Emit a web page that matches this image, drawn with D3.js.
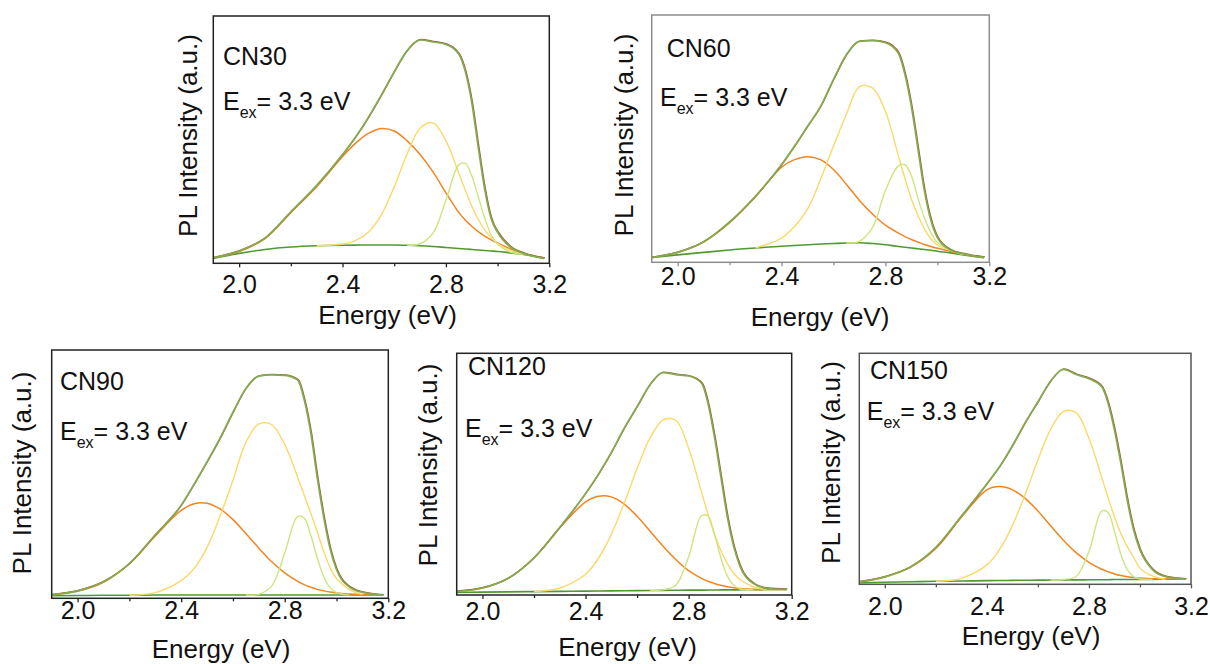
<!DOCTYPE html>
<html>
<head>
<meta charset="utf-8">
<script src="https://cdn.jsdelivr.net/npm/d3@7"></script>
<style>
  body { margin: 0; background: #fff; }
  svg text { font-family: "Liberation Sans", Arial, sans-serif; fill: #111; }
</style>
</head>
<body>
<svg id="chart" width="1210" height="664"></svg>
<script>
// photon energy grid (eV) shared by every curve
var energy = [1.9, 2.0, 2.1, 2.2, 2.3, 2.4, 2.45, 2.5, 2.55, 2.6, 2.65, 2.7, 2.75, 2.8, 2.85, 2.875, 2.9, 2.925, 2.95, 2.975, 3.0, 3.05, 3.1, 3.18];

var samples = ["CN30", "CN60", "CN90", "CN120", "CN150"];
var excitationText = "= 3.3 eV";
var xTicks = [2.0, 2.4, 2.8, 3.2];
var xMinorTicks = [2.2, 2.6, 3.0];

// intensities in % of the plot height
var cn30Total = [2.2, 5.0, 10.2, 20.8, 31.5, 44, 51, 59, 68, 77.5, 86, 90.3, 89.5, 88.5, 84.5, 77.5, 65, 47, 30, 18, 12.5, 6.5, 4, 2];
var cn30Base  = [2.0, 4.0, 5.6, 6.6, 7.1, 7.3, 7.35, 7.4, 7.4, 7.4, 7.3, 7.1, 6.8, 6.4, 6.0, 5.8, 5.6, 5.4, 5.2, 5.0, 4.8, 4.2, 3.6, 2.0];
var cn30Peak1 = [2.2, 4.8, 10, 20.5, 31, 43.2, 48.5, 52.5, 54.5, 53.5, 49.5, 44, 37, 28.5, 20.5, 17.5, 15, 12.8, 11, 9.5, 8.2, 5.8, 4.0, 2.2];
var cn30Peak2 = [null, null, null, null, 7.1, 7.8, 9.2, 12.6, 19.6, 30.9, 44.2, 54.6, 56.8, 49.5, 36.4, 29.5, 23.2, 17.8, 13.5, 10.3, 8.0, 5.2, 3.7, null];
var cn30Peak3 = [null, null, null, null, null, null, null, null, null, null, 7.3, 7.9, 12.2, 25.5, 39.8, 40.4, 35.4, 27, 18.3, 11.5, 7.7, 4.5, 3.6, null];

var cn60Total = [1.9, 4.0, 8.3, 16.3, 26.8, 39.5, 47, 55, 63, 74, 84, 89.3, 89.6, 88.8, 84.5, 76, 63, 46, 29, 17, 10, 5, 3.4, 2.0];
var cn60Base  = [1.9, 3.0, 4.0, 5.0, 5.8, 6.5, 6.8, 7.1, 7.4, 7.6, 7.8, 7.9, 7.6, 7.1, 6.4, 6.1, 5.8, 5.5, 5.2, 4.9, 4.5, 3.8, 3.0, 1.9];
var cn60Peak1 = [2.0, 4.0, 8.2, 16, 26.5, 38.5, 41.5, 42.7, 41.5, 37.5, 31.5, 25, 19.5, 15, 11.8, 10.4, 9.2, 8.2, 7.2, 6.4, 5.7, 4.5, 3.3, 2.0];
var cn60Peak2 = [null, null, null, null, 5.8, 9.8, 14.5, 21.5, 33.5, 47, 60, 71, 70.5, 61, 43, 34, 25.5, 19, 13.5, 9.5, 7, 4.8, 3.1, null];
var cn60Peak3 = [null, null, null, null, null, null, null, null, null, null, 7.8, 8.5, 14, 29, 39, 39.5, 35, 26, 18, 12, 8, 5, 3.1, null];

var cn90Total = [1.4, 3.0, 6.7, 14, 25.6, 37.5, 46, 55, 64.5, 75, 84.5, 89.5, 90, 89.8, 87.9, 80, 67, 49, 33, 20, 11.5, 4.5, 2.4, 1.3];
var cn90Base  = [1.0, 1.1, 1.2, 1.2, 1.3, 1.3, 1.3, 1.3, 1.3, 1.3, 1.3, 1.3, 1.3, 1.3, 1.3, 1.3, 1.3, 1.3, 1.3, 1.3, 1.3, 1.3, 1.3, 1.3];
var cn90Peak1 = [1.4, 2.8, 6.4, 13.9, 25.1, 35.4, 38.1, 38.3, 36, 31.7, 26.1, 20.2, 14.7, 10.2, 6.8, 5.5, 4.5, 3.6, 3.0, 2.5, 2.2, 1.7, 1.45, 1.3];
var cn90Peak2 = [null, null, null, 1.2, 2.3, 7.1, 12, 20.5, 33, 47.5, 62.8, 70.2, 69.9, 61.9, 48.8, 41.6, 34.4, 27, 19, 12.5, 8, 3.5, 1.5, null];
var cn90Peak3 = [null, null, null, null, null, null, null, null, null, null, 1.3, 1.6, 5.0, 18.3, 33, 32.3, 25.6, 16.5, 8.9, 4.3, 2.3, 1.3, null, null];

var cn120Total = [1.5, 2.9, 6.9, 15.4, 28, 42, 50, 59, 69, 78, 87, 92, 91.2, 90.6, 87.6, 79.3, 65.5, 49, 32.4, 20, 11.7, 4.8, 2.8, 2.3];
var cn120Base  = [1.1, 1.2, 1.3, 1.4, 1.5, 1.6, 1.65, 1.7, 1.75, 1.8, 1.85, 1.9, 1.95, 2.0, 2.0, 2.05, 2.05, 2.1, 2.1, 2.1, 2.15, 2.2, 2.25, 2.3];
var cn120Peak1 = [1.5, 2.9, 6.9, 15.4, 27.8, 38.5, 40.9, 40.6, 37.6, 32.6, 26.5, 20.3, 14.7, 10.1, 6.9, 5.7, 4.8, 4.0, 3.4, 3.0, 2.7, 2.4, 2.3, 2.3];
var cn120Peak2 = [null, null, null, 1.4, 2.9, 8.6, 15.2, 25.1, 38, 52.3, 64.9, 72.4, 72.3, 60.7, 42.6, 33.4, 25.2, 18.4, 13, 9, 6.3, 3.4, 2.3, null];
var cn120Peak3 = [null, null, null, null, null, null, null, null, null, null, 1.85, 2.1, 4.0, 15.8, 32.8, 32.7, 25.2, 15.4, 7.9, 4.0, 2.5, 2.2, null, null];

var cn150Total = [1.0, 3.2, 7.5, 16, 29.5, 43.5, 51, 60, 70, 79, 88, 93, 90.8, 89, 85.5, 78.4, 66.8, 52.4, 36.5, 23.5, 14.9, 6.2, 3.3, 2.2];
var cn150Base  = [0.7, 0.9, 1.1, 1.3, 1.4, 1.6, 1.65, 1.7, 1.75, 1.8, 1.85, 1.9, 1.9, 1.95, 2.0, 2.0, 2.05, 2.05, 2.1, 2.1, 2.1, 2.15, 2.2, 2.2];
var cn150Peak1 = [1.0, 3.2, 7.3, 15.5, 29, 40.9, 42.3, 40.9, 37.2, 31.7, 25.3, 19.1, 13.7, 9.5, 6.5, 5.4, 4.5, 3.8, 3.3, 2.9, 2.7, 2.4, 2.3, 2.2];
var cn150Peak2 = [null, null, null, 1.3, 2.6, 8.4, 15.1, 25.4, 38.9, 53.9, 67.1, 74.8, 74.2, 63.2, 46.3, 37.5, 29.2, 22, 16.3, 11.8, 7, 3.5, 2.2, null];
var cn150Peak3 = [null, null, null, null, null, null, null, null, null, null, 1.85, 2.1, 3.4, 14.1, 31.7, 31.1, 22.9, 13, 6.3, 3.3, 2.3, 2.15, null, null];

var curves = {
  CN30:  {total: cn30Total,  base: cn30Base,  p1: cn30Peak1,  p2: cn30Peak2,  p3: cn30Peak3},
  CN60:  {total: cn60Total,  base: cn60Base,  p1: cn60Peak1,  p2: cn60Peak2,  p3: cn60Peak3},
  CN90:  {total: cn90Total,  base: cn90Base,  p1: cn90Peak1,  p2: cn90Peak2,  p3: cn90Peak3},
  CN120: {total: cn120Total, base: cn120Base, p1: cn120Peak1, p2: cn120Peak2, p3: cn120Peak3},
  CN150: {total: cn150Total, base: cn150Base, p1: cn150Peak1, p2: cn150Peak2, p3: cn150Peak3}
};

var colors = {base: "#4f9a30", p1: "#f28520", p2: "#fbd86a", p3: "#cde57f", data: "#9a5e30", fit: "#84ab52"};

// where each panel sits in the figure
var panels = [
  {left: 213.3, right: 549.3, top: 16,    bottom: 263.3, frame: "#222",    tick: 29.6, tx: 387.5, ty: 323.5, yx: 196.5, yy: 135.5, nx: 223,   ny: 65,    ex: 223,   ey: 110},
  {left: 651.7, right: 989.3, top: 15,    bottom: 262.3, frame: "#8c8c8c", tick: 22.7, tx: 820,   ty: 326,   yx: 632.5, yy: 135,   nx: 666.7, ny: 56.7,  ex: 660,   ey: 106},
  {left: 51.7,  right: 388.3, top: 350,   bottom: 598.3, frame: "#222",    tick: 21,   tx: 221,   ty: 658,   yx: 31,    yy: 473,   nx: 60,    ny: 390,   ex: 60,    ey: 440},
  {left: 456.7, right: 791.7, top: 353.3, bottom: 595,   frame: "#222",    tick: 24.5, tx: 627.5, ty: 656,   yx: 436.5, yy: 465,   nx: 468,   ny: 375,   ex: 465,   ey: 436.7},
  {left: 859.3, right: 1191,  top: 353.3, bottom: 584.3, frame: "#555",    tick: 31,   tx: 1031,  ty: 645,   yx: 839.5, yy: 462.5, nx: 870,   ny: 379,   ex: 866.7, ey: 420}
];

var svg = d3.select("#chart");

samples.forEach(function(name, i) {
  var p = panels[i];
  var c = curves[name];
  var w = p.right - p.left, h = p.bottom - p.top;

  var x = d3.scaleLinear().domain([1.9, 3.2]).range([0, w]);
  var y = d3.scaleLinear().domain([0, 100]).range([h, 0]);

  var g = svg.append("g").attr("transform", "translate(" + p.left + "," + p.top + ")");

  g.append("clipPath").attr("id", "clip" + i)
    .append("rect").attr("width", w).attr("height", h);

  function pts(arr) { return energy.map(function(e, k) { return [e, arr[k]]; }); }
  function lineWith(curve) {
    return d3.line()
      .defined(function(d) { return d[1] != null; })
      .x(function(d) { return x(d[0]); })
      .y(function(d) { return y(d[1]); })
      .curve(curve);
  }
  var smooth = lineWith(d3.curveCatmullRom.alpha(0.5));   // fitted peaks
  var mono = lineWith(d3.curveMonotoneX);                  // spectrum and baseline

  var plot = g.append("g").attr("clip-path", "url(#clip" + i + ")");
  plot.append("path").attr("d", mono(pts(c.base))).attr("fill", "none")
    .attr("stroke", colors.base).attr("stroke-width", 1.6);
  plot.append("path").attr("d", smooth(pts(c.p1))).attr("fill", "none")
    .attr("stroke", colors.p1).attr("stroke-width", 1.5);
  plot.append("path").attr("d", smooth(pts(c.p2))).attr("fill", "none")
    .attr("stroke", colors.p2).attr("stroke-width", 1.4);
  plot.append("path").attr("d", smooth(pts(c.p3))).attr("fill", "none")
    .attr("stroke", colors.p3).attr("stroke-width", 1.4);
  // measured spectrum under the fitted envelope
  plot.append("path").attr("d", mono(pts(c.total))).attr("fill", "none")
    .attr("stroke", colors.data).attr("stroke-width", 1.3)
    .attr("transform", "translate(0.7,-0.5)");
  plot.append("path").attr("d", mono(pts(c.total))).attr("fill", "none")
    .attr("stroke", colors.fit).attr("stroke-width", 1.7);

  // frame
  g.append("rect").attr("width", w).attr("height", h)
    .attr("fill", "none").attr("stroke", p.frame).attr("stroke-width", 1.5);

  var axis = g.append("g").attr("transform", "translate(0," + h + ")")
    .call(d3.axisBottom(x).tickValues(xTicks).tickFormat(d3.format(".1f")).tickSize(4).tickSizeOuter(0));
  axis.select(".domain").remove();
  axis.selectAll("line").attr("stroke", p.frame).attr("stroke-width", 1.3);
  axis.selectAll("text").attr("y", p.tick).attr("dy", null)
    .style("font-size", "25px").style("fill", "#111");

  var minor = g.append("g").attr("transform", "translate(0," + h + ")")
    .call(d3.axisBottom(x).tickValues(xMinorTicks).tickFormat("").tickSize(3).tickSizeOuter(0));
  minor.select(".domain").remove();
  minor.selectAll("line").attr("stroke", p.frame).attr("stroke-width", 1.3);

  svg.append("text").attr("x", p.tx).attr("y", p.ty)
    .attr("text-anchor", "middle").style("font-size", "26px").text("Energy (eV)");

  svg.append("text").attr("transform", "translate(" + p.yx + "," + p.yy + ") rotate(-90)")
    .attr("text-anchor", "middle").style("font-size", "26px").text("PL Intensity (a.u.)");

  svg.append("text").attr("x", p.nx).attr("y", p.ny).style("font-size", "25px").text(name);

  var ex = svg.append("text").attr("x", p.ex).attr("y", p.ey).style("font-size", "25px");
  ex.append("tspan").text("E");
  ex.append("tspan").attr("dy", 8).style("font-size", "16px").text("ex");
  ex.append("tspan").attr("dy", -8).text(excitationText);
});
</script>
</body>
</html>
